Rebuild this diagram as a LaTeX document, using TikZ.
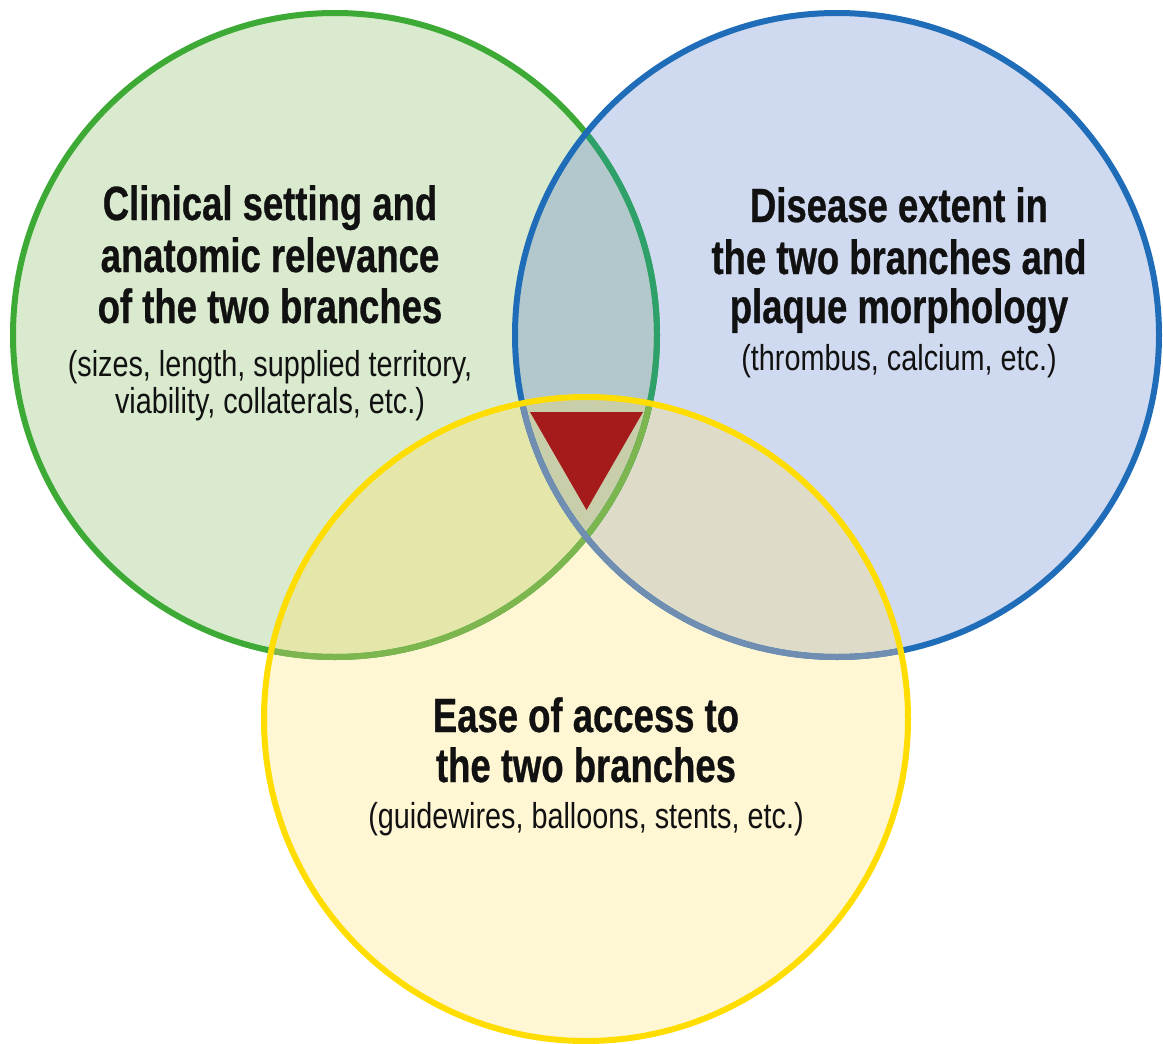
\documentclass[tikz,border=0pt]{standalone}
\usepackage{fontspec}
\newfontfamily\cf[FakeStretch=0.76,BoldFeatures={FakeBold=0.6}]{Liberation Sans}
\newfontfamily\cfs[FakeStretch=0.8]{Liberation Sans}
\definecolor{gfill}{HTML}{DAEACE}
\definecolor{bfill}{HTML}{CFD9EF}
\definecolor{yfill}{HTML}{FFF6D4}
\definecolor{gbfill}{HTML}{B2C8CD}
\definecolor{gyfill}{HTML}{E4E6AA}
\definecolor{byfill}{HTML}{DEDBC8}
\definecolor{gbyfill}{HTML}{C8CDAA}
\definecolor{gline}{HTML}{3DAA35}
\definecolor{ginb}{HTML}{2EA06A}
\definecolor{giny}{HTML}{7DB64F}
\definecolor{bline}{HTML}{1F6DB8}
\definecolor{biny}{HTML}{6F8EB2}
\definecolor{yline}{HTML}{FFDD00}
\definecolor{trired}{HTML}{A51A1A}
\definecolor{txt}{HTML}{111111}
\tikzset{
  ring/.style={line width=6pt},
  ttl/.style={anchor=base, inner sep=0pt, text=txt, font=\cf\bfseries\fontsize{48}{51}\selectfont},
  sub/.style={anchor=base, inner sep=0pt, text=txt, font=\cfs\fontsize{36}{35}\selectfont}
}
\begin{document}
\begin{tikzpicture}[x=1pt,y=-1pt]
\useasboundingbox[fill=white] (0,0) rectangle (1163,1044);
\coordinate (G) at (335,335);
\coordinate (B) at (837,335);
\coordinate (Y) at (586,719);
% fills
\fill[gfill] (G) circle (322pt);
\fill[bfill] (B) circle (322pt);
\fill[yfill] (Y) circle (322pt);
\begin{scope}
  \clip (B) circle (322pt);
  \fill[byfill] (Y) circle (322pt);
\end{scope}
\begin{scope}
  \clip (G) circle (322pt);
  \fill[gbfill] (B) circle (322pt);
  \fill[gyfill] (Y) circle (322pt);
  \clip (B) circle (322pt);
  \fill[gbyfill] (Y) circle (322pt);
\end{scope}
% outlines
\draw[ring, gline] (G) circle (322pt);
\begin{scope}
  \clip (B) circle (322pt);
  \draw[ring, ginb] (G) circle (322pt);
\end{scope}
\begin{scope}
  \clip (Y) circle (322pt);
  \draw[ring, giny] (G) circle (322pt);
\end{scope}
\draw[ring, bline] (B) circle (322pt);
\begin{scope}
  \clip (Y) circle (322pt);
  \draw[ring, biny] (B) circle (322pt);
\end{scope}
\draw[ring, yline] (Y) circle (322pt);
% central triangle
\fill[trired] (530,412) -- (643,412) -- (586.5,510) -- cycle;
% green text
\node[ttl] (g1) at (270,220) {Clinical setting and};
\node[ttl] (g2) at (270,272) {anatomic relevance};
\node[ttl] (g3) at (270,323) {of the two branches};
\node[sub] (gs1) at (270,376) {(sizes, length, supplied territory,};
\node[sub] (gs2) at (270,413) {viability, collaterals, etc.)};
% blue text
\node[ttl] (b1) at (899,222) {Disease extent in};
\node[ttl] (b2) at (899,274) {the two branches and};
\node[ttl] (b3) at (899,323) {plaque morphology};
\node[sub] (bs1) at (899,370) {(thrombus, calcium, etc.)};
% yellow text
\node[ttl] (y1) at (586,732) {Ease of access to};
\node[ttl] (y2) at (586,782) {the two branches};
\node[sub] (ys1) at (586,828) {(guidewires, balloons, stents, etc.)};
\end{tikzpicture}
\end{document}
